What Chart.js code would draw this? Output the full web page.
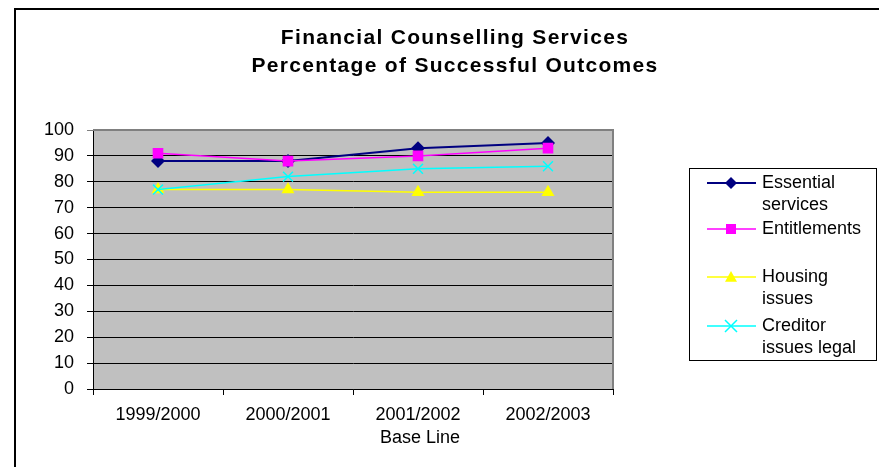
<!DOCTYPE html>
<html>
<head>
<meta charset="utf-8">
<script src="https://cdn.jsdelivr.net/npm/chart.js@4/dist/chart.umd.min.js"></script>
<style>
  html, body { margin: 0; padding: 0; background: #fff; }
  #wrap { width: 879px; height: 467px; position: relative; }
</style>
</head>
<body>
<div id="wrap"><canvas id="c" width="879" height="467"></canvas></div>
<script>
const categories = ['1999/2000', '2000/2001', '2001/2002', '2002/2003'];
const essentialServices = [88, 88, 93, 95];
const entitlements = [91, 88, 90, 93];
const housingIssues = [77, 77, 76, 76];
const creditorIssuesLegal = [77, 82, 85, 86];
const seriesNames = ['Essential services', 'Entitlements', 'Housing issues', 'Creditor issues legal'];
const legendLines = [['Essential', 'services'], ['Entitlements'], ['Housing', 'issues'], ['Creditor', 'issues legal']];
const titleLines = ['Financial Counselling Services', 'Percentage of Successful Outcomes'];
const xAxisTitle = 'Base Line';
const yTicks = [0, 10, 20, 30, 40, 50, 60, 70, 80, 90, 100];

const FONT = "'Liberation Sans', Arial, sans-serif";
const styles = [
  { color: '#000080', style: 'rectRot', radius: 7, legendR: 6, width: 2 },
  { color: '#FF00FF', style: 'rect', radius: 7.5, legendR: 5, width: 1.5 },
  { color: '#FFFF00', style: 'triangle', radius: 7.5, legendR: 6, width: 1.5 },
  { color: '#00FFFF', style: 'crossRot', radius: 7, legendR: 6, width: 1.5 }
];
const seriesData = [essentialServices, entitlements, housingIssues, creditorIssuesLegal];

function drawMarker(ctx, kind, x, y, r, color) {
  ctx.save();
  ctx.fillStyle = color;
  ctx.strokeStyle = color;
  ctx.lineWidth = 1.5;
  ctx.beginPath();
  if (kind === 'rectRot') {
    ctx.moveTo(x, y - r); ctx.lineTo(x + r, y); ctx.lineTo(x, y + r); ctx.lineTo(x - r, y); ctx.closePath(); ctx.fill();
  } else if (kind === 'rect') {
    ctx.rect(x - r, y - r, 2 * r, 2 * r); ctx.fill();
  } else if (kind === 'triangle') {
    ctx.moveTo(x, y - r); ctx.lineTo(x + r, y + r * 0.8); ctx.lineTo(x - r, y + r * 0.8); ctx.closePath(); ctx.fill();
  } else {
    ctx.moveTo(x - r, y - r); ctx.lineTo(x + r, y + r); ctx.moveTo(x + r, y - r); ctx.lineTo(x - r, y + r); ctx.stroke();
  }
  ctx.restore();
}

const decorPlugin = {
  id: 'decor',
  beforeDraw(chart) {
    const ctx = chart.ctx, a = chart.chartArea;
    ctx.save();
    ctx.fillStyle = '#fff';
    ctx.fillRect(0, 0, chart.width, chart.height);
    ctx.strokeStyle = '#000';
    ctx.lineWidth = 2;
    ctx.beginPath();
    ctx.moveTo(15, chart.height + 5); ctx.lineTo(15, 9); ctx.lineTo(chart.width + 5, 9);
    ctx.stroke();
    ctx.fillStyle = '#C0C0C0';
    ctx.fillRect(a.left, a.top, a.right - a.left, a.bottom - a.top);
    ctx.restore();
  },
  beforeDatasetsDraw(chart) {
    const ctx = chart.ctx, a = chart.chartArea;
    ctx.save();
    ctx.strokeStyle = '#808080';
    ctx.lineWidth = 2;
    ctx.beginPath();
    ctx.moveTo(a.left, a.top); ctx.lineTo(a.right, a.top); ctx.lineTo(a.right, a.bottom);
    ctx.stroke();
    ctx.restore();
  },
  afterDraw(chart) {
    const ctx = chart.ctx;
    ctx.save();
    ctx.fillStyle = '#000';
    ctx.textAlign = 'center';
    ctx.textBaseline = 'middle';
    ctx.font = 'bold 21px ' + FONT;
    try { ctx.letterSpacing = '1.3px'; } catch (e) {}
    ctx.fillText(titleLines[0], 455, 38);
    ctx.fillText(titleLines[1], 455, 66);
    try { ctx.letterSpacing = '0px'; } catch (e) {}
    ctx.font = '18px ' + FONT;
    ctx.fillText(xAxisTitle, 420, 438);
    ctx.strokeStyle = '#000';
    ctx.lineWidth = 1;
    ctx.strokeRect(689.5, 168.5, 187, 192);
    const ys = [183, 229, 277, 326];
    ctx.textAlign = 'left';
    ctx.font = '18px ' + FONT;
    legendLines.forEach((lines, i) => {
      const s = styles[i], y = ys[i];
      ctx.strokeStyle = s.color;
      ctx.lineWidth = s.width;
      ctx.beginPath(); ctx.moveTo(707, y); ctx.lineTo(756, y); ctx.stroke();
      drawMarker(ctx, s.style, 731, y, s.legendR, s.color);
      ctx.fillStyle = '#000';
      lines.forEach((t, j) => ctx.fillText(t, 762, y + j * 22));
    });
    ctx.restore();
  }
};

const datasets = seriesData.map((d, i) => ({
  label: seriesNames[i],
  data: d,
  borderColor: styles[i].color,
  backgroundColor: styles[i].color,
  borderWidth: styles[i].width,
  pointStyle: styles[i].style,
  pointRadius: styles[i].radius,
  pointBorderWidth: styles[i].style === 'crossRot' ? 1.5 : 0,
  pointHoverRadius: styles[i].radius,
  tension: 0,
  order: 4 - i
}));

new Chart(document.getElementById('c'), {
  type: 'line',
  data: { labels: categories, datasets },
  plugins: [decorPlugin],
  options: {
    responsive: false,
    animation: false,
    events: [],
    layout: { padding: { left: 0, top: 130, right: 266, bottom: 0 } },
    plugins: { legend: { display: false }, title: { display: false }, tooltip: { enabled: false } },
    scales: {
      x: {
        type: 'category',
        offset: true,
        grid: { offset: true, drawOnChartArea: false, drawTicks: true, tickLength: 6, color: '#000', lineWidth: 1 },
        border: { display: true, color: '#000', width: 1 },
        ticks: { color: '#000', font: { family: FONT, size: 18 }, padding: 9, maxRotation: 0, autoSkip: false },
        afterFit(scale) { scale.height = 78; }
      },
      y: {
        min: 0, max: 100,
        afterBuildTicks(scale) { scale.ticks = yTicks.map(v => ({ value: v })); },
        grid: {
          color: (c) => (c.tick && c.tick.value === 100 ? '#808080' : '#000'),
          lineWidth: 1, tickLength: 6, drawTicks: true
        },
        border: { display: true, color: '#000', width: 1 },
        ticks: { color: '#000', font: { family: FONT, size: 18 }, padding: 13 },
        afterFit(scale) { scale.width = 93; }
      }
    }
  }
});
</script>
</body>
</html>
